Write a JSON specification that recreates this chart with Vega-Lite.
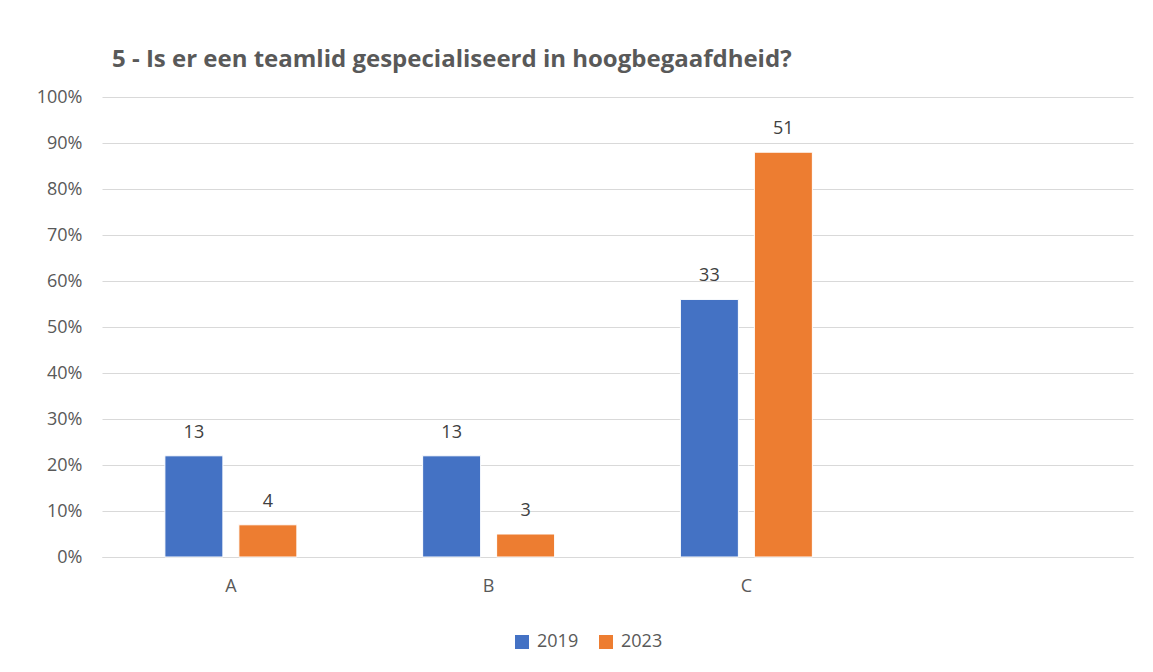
{
  "$schema": "https://vega.github.io/schema/vega-lite/v6.json",
  "width": 1031,
  "height": 460,
  "autosize": {"type": "none"},
  "padding": {"left": 102, "top": 97, "right": 20, "bottom": 115},
  "background": "white",
  "title": {
    "text": "5 - Is er een teamlid gespecialiseerd in hoogbegaafdheid?",
    "anchor": "start",
    "frame": "group",
    "offset": 16,
    "dx": 10,
    "font": "Open Sans",
    "fontSize": 24,
    "fontWeight": "bold",
    "color": "#595959"
  },
  "config": {
    "view": {"stroke": null},
    "font": "Open Sans"
  },
  "data": {
    "values": [
      {"cat": "A", "year": "2019", "pct": 22, "n": 13},
      {"cat": "A", "year": "2023", "pct": 7, "n": 4},
      {"cat": "B", "year": "2019", "pct": 22, "n": 13},
      {"cat": "B", "year": "2023", "pct": 5, "n": 3},
      {"cat": "C", "year": "2019", "pct": 56, "n": 33},
      {"cat": "C", "year": "2023", "pct": 88, "n": 51}
    ]
  },
  "encoding": {
    "x": {
      "field": "cat",
      "type": "nominal",
      "scale": {"domain": ["A", "B", "C", "D"], "paddingInner": 0, "paddingOuter": 0},
      "axis": {
        "title": null,
        "labelAngle": 0,
        "labelExpr": "datum.value == 'D' ? '' : datum.value",
        "labelColor": "#595959",
        "labelFontSize": 18,
        "labelPadding": 20,
        "ticks": false,
        "domainColor": "#d9d9d9",
        "domainWidth": 1,
        "grid": false
      }
    },
    "xOffset": {
      "field": "year",
      "type": "nominal",
      "scale": {"paddingInner": 0.216, "paddingOuter": 0.85}
    },
    "y": {
      "field": "pct",
      "type": "quantitative",
      "scale": {"domain": [0, 100]},
      "axis": {
        "title": null,
        "values": [0, 10, 20, 30, 40, 50, 60, 70, 80, 90, 100],
        "labelExpr": "datum.value + '%'",
        "labelColor": "#595959",
        "labelFontSize": 18,
        "labelPadding": 20,
        "ticks": false,
        "domain": false,
        "gridColor": "#d9d9d9",
        "gridWidth": 1
      }
    }
  },
  "layer": [
    {
      "mark": {"type": "bar", "stroke": "white", "strokeWidth": 1},
      "encoding": {
        "color": {
          "field": "year",
          "type": "nominal",
          "scale": {"domain": ["2019", "2023"], "range": ["#4472C4", "#ED7D31"]},
          "legend": {
            "title": null,
            "orient": "none",
            "direction": "horizontal",
            "legendX": 411,
            "legendY": 536,
            "symbolType": "square",
            "symbolSize": 196,
            "symbolStrokeWidth": 0,
            "labelColor": "#595959",
            "labelFontSize": 18,
            "labelOffset": 6,
            "columnPadding": 18
          }
        }
      }
    },
    {
      "mark": {"type": "text", "baseline": "bottom", "dy": -14, "fontSize": 18, "color": "#404040"},
      "encoding": {
        "text": {"field": "n", "type": "quantitative"}
      }
    }
  ]
}
